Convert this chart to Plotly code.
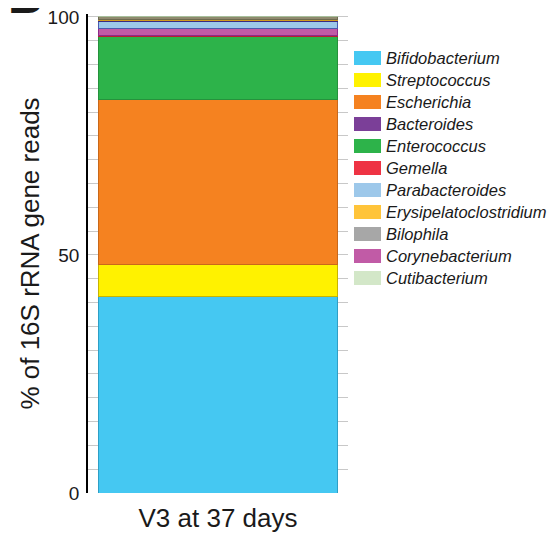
import plotly.graph_objects as go

# Stack order (bottom -> top)
genera = ["Bifidobacterium", "Streptococcus", "Escherichia", "Enterococcus",
          "Gemella", "Corynebacterium", "Parabacteroides", "Bacteroides",
          "Erysipelatoclostridium", "Bilophila", "Cutibacterium"]
values = [41.2, 6.7, 34.7, 13.3, 0.1, 1.5, 1.5, 0.3, 0.1, 0.6, 0.0]
bar_colors = ["#45C8F2", "#FFF200", "#F58220", "#2DB34A", "#EE3344", "#C15BA6",
              "#9DC8EA", "#7B3F98", "#FFC43A", "#8F8A6E", "#D3E7C8"]
legend_colors = ["#45C8F2", "#FFF200", "#F58220", "#2DB34A", "#EE3344", "#C15BA6",
                 "#9DC8EA", "#7B3F98", "#FFC43A", "#A7A7A7", "#D3E7C8"]
edge_colors = ["#2E9FC6", "#C8B400", "#C9681A", "#25923C", "#B82030", "#8E2A8A",
               "#4A5CB0", "#3A2A80", "#D09A20", "#6E6A50", "#A8C09C"]
# Legend order (top -> bottom)
legend_order = ["Bifidobacterium", "Streptococcus", "Escherichia", "Bacteroides",
                "Enterococcus", "Gemella", "Parabacteroides", "Erysipelatoclostridium",
                "Bilophila", "Corynebacterium", "Cutibacterium"]
sample = ["V3 at 37 days"]
ytick_vals = [0, 50, 100]

font = "Liberation Sans, Arial, sans-serif"
W, H = 558, 536
ML, MR, MT, MB = 80, 218, 6, 51
PW, PH = W - ML - MR, H - MT - MB


def px_x(x):
    return (x - ML) / PW


def px_y(y):
    return (H - MB - y) / PH


fig = go.Figure()
for g, v, c, ec in zip(genera, values, bar_colors, edge_colors):
    fig.add_trace(go.Bar(
        x=sample, y=[v], name=g,
        marker=dict(color=c, line=dict(color=ec, width=1)),
        showlegend=False,
    ))

# Legend drawn as swatches + labels
shapes = []
annotations = []
for i, g in enumerate(legend_order):
    c = legend_colors[genera.index(g)]
    yc = 50 + 22 * i
    shapes.append(dict(type="rect", xref="paper", yref="paper",
                       x0=px_x(346), x1=px_x(373), y0=px_y(yc + 7), y1=px_y(yc - 7),
                       fillcolor=c, line=dict(width=0)))
    annotations.append(dict(text=f"<i>{g}</i>", xref="paper", yref="paper",
                            x=px_x(376), y=px_y(yc), xanchor="left", yanchor="middle",
                            showarrow=False,
                            font=dict(size=16.5, family=font, color="#1a1a1a")))

annotations.append(dict(
    text="<b>B</b>", xref="paper", yref="paper", x=px_x(-2), y=px_y(17),
    xanchor="left", yanchor="bottom", showarrow=False,
    font=dict(size=48, family=font, color="#1a1a1a"),
))

fig.update_layout(
    width=W, height=H,
    margin=dict(l=ML, r=MR, t=MT, b=MB),
    barmode="stack", bargap=0.077,
    plot_bgcolor="white", paper_bgcolor="white",
    font=dict(family=font, color="#1a1a1a"),
    showlegend=False,
    shapes=shapes,
    annotations=annotations,
    xaxis=dict(
        showline=False, ticks="", showgrid=False,
        tickfont=dict(size=26, family=font),
        ticklabelstandoff=7,
        range=[-0.5, 0.5],
    ),
    yaxis=dict(
        range=[0, 100.6], tickvals=ytick_vals, ticktext=[str(t) for t in ytick_vals],
        showline=True, linecolor="black", linewidth=1.8,
        ticks="", tickfont=dict(size=19, family=font),
        ticklabeloverflow="allow", ticklabelstandoff=3,
        showgrid=True, gridcolor="#c8c8c8", gridwidth=1,
        minor=dict(dtick=5, showgrid=True, gridcolor="#c8c8c8", gridwidth=1),
        zeroline=False, automargin=False,
        title=dict(text="% of 16S rRNA gene reads", font=dict(size=26, family=font),
                   standoff=0),
    ),
)
fig.write_html("out.html")
